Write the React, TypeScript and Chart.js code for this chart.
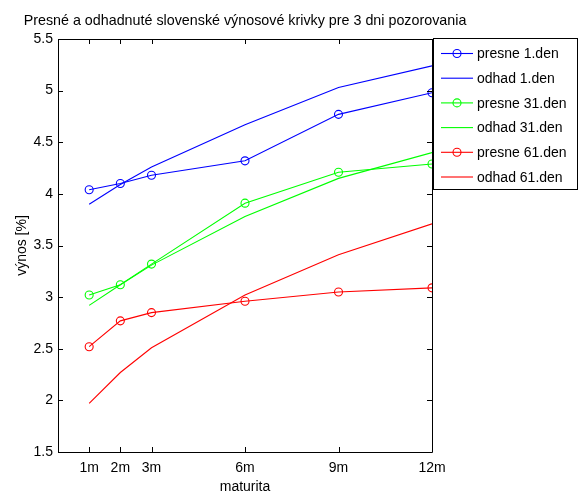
import React, { useEffect, useRef } from "react";
import { Chart, registerables } from "chart.js";

Chart.register(...registerables);

const xMonths = [1, 2, 3, 6, 9, 12];
const xLabels = ["1m", "2m", "3m", "6m", "9m", "12m"];
const yTicks = [1.5, 2, 2.5, 3, 3.5, 4, 4.5, 5, 5.5];

const presne1 = [4.04, 4.1, 4.18, 4.32, 4.77, 4.98];
const odhad1 = [3.9, 4.09, 4.26, 4.67, 5.03, 5.24];
const presne31 = [3.02, 3.12, 3.32, 3.91, 4.21, 4.29];
const odhad31 = [2.92, 3.12, 3.31, 3.78, 4.15, 4.4];
const presne61 = [2.52, 2.77, 2.85, 2.96, 3.05, 3.09];
const odhad61 = [1.97, 2.27, 2.51, 3.02, 3.41, 3.71];

const titleText = "Presné a odhadnuté slovenské výnosové krivky pre 3 dni pozorovania";
const xTitle = "maturita";
const yTitle = "výnos [%]";

const FONT = "Arial, 'Liberation Sans', Helvetica, sans-serif";

const toPts = (arr: number[]) => arr.map((y, i) => ({ x: xMonths[i], y }));

const mk = (label: string, data: number[], color: string, marker: boolean) => ({
  label,
  data: toPts(data),
  borderColor: color,
  backgroundColor: "rgba(0,0,0,0)",
  borderWidth: 1.1,
  pointRadius: marker ? 4 : 0,
  pointBorderWidth: 1.1,
  pointBorderColor: color,
  pointBackgroundColor: "rgba(0,0,0,0)",
  pointStyle: "circle",
  tension: 0,
  fill: false,
  _marker: marker,
});

const framePlugin = {
  id: "matlabFrame",
  afterDraw(chart: any) {
    const { ctx, chartArea } = chart;
    const { left, right, top, bottom } = chartArea;
    const xs = chart.scales.x;
    const ys = chart.scales.y;
    ctx.save();
    ctx.strokeStyle = "#000";
    ctx.lineWidth = 1;
    ctx.beginPath();
    ctx.rect(Math.round(left) + 0.5, Math.round(top) + 0.5, Math.round(right - left), Math.round(bottom - top));
    ctx.stroke();
    const tl = 5;
    ctx.beginPath();
    xMonths.forEach((v) => {
      const px = Math.round(xs.getPixelForValue(v)) + 0.5;
      ctx.moveTo(px, bottom);
      ctx.lineTo(px, bottom - tl);
      ctx.moveTo(px, top);
      ctx.lineTo(px, top + tl);
    });
    yTicks.forEach((v) => {
      const py = Math.round(ys.getPixelForValue(v)) + 0.5;
      ctx.moveTo(left, py);
      ctx.lineTo(left + tl, py);
      ctx.moveTo(right, py);
      ctx.lineTo(right - tl, py);
    });
    ctx.stroke();

    // title
    ctx.fillStyle = "#000";
    ctx.font = `14.3px ${FONT}`;
    ctx.textAlign = "center";
    ctx.textBaseline = "alphabetic";
    ctx.fillText(titleText, (left + right) / 2, 25);

    // x title
    ctx.font = `14px ${FONT}`;
    ctx.fillText(xTitle, (left + right) / 2, 491);

    // y title
    ctx.save();
    ctx.translate(26, (top + bottom) / 2);
    ctx.rotate(-Math.PI / 2);
    ctx.textAlign = "center";
    ctx.textBaseline = "alphabetic";
    ctx.fillText(yTitle, 0, 0);
    ctx.restore();

    // legend
    const lx = 433.5, ly = 38.5, lw = 144, lh = 151;
    ctx.fillStyle = "#fff";
    ctx.fillRect(lx, ly, lw, lh);
    ctx.strokeStyle = "#000";
    ctx.lineWidth = 1;
    ctx.strokeRect(lx, ly, lw, lh);
    ctx.font = `14px ${FONT}`;
    ctx.textAlign = "left";
    ctx.textBaseline = "middle";
    chart.data.datasets.forEach((ds: any, i: number) => {
      const y = 53.5 + i * 24.7;
      ctx.strokeStyle = ds.borderColor;
      ctx.lineWidth = 1.1;
      ctx.beginPath();
      ctx.moveTo(441, y);
      ctx.lineTo(473, y);
      ctx.stroke();
      if (ds._marker) {
        ctx.beginPath();
        ctx.arc(457, y, 4, 0, Math.PI * 2);
        ctx.stroke();
      }
      ctx.fillStyle = "#000";
      ctx.fillText(ds.label, 477, y + 1);
    });
    ctx.restore();
  },
};

export default function App() {
  const ref = useRef<HTMLCanvasElement | null>(null);
  useEffect(() => {
    if (!ref.current) return;
    const chart = new Chart(ref.current, {
      type: "line",
      data: {
        datasets: [
          mk("presne 1.den", presne1, "#0000ff", true),
          mk("odhad 1.den", odhad1, "#0000ff", false),
          mk("presne 31.den", presne31, "#00ff00", true),
          mk("odhad 31.den", odhad31, "#00ff00", false),
          mk("presne 61.den", presne61, "#ff0000", true),
          mk("odhad 61.den", odhad61, "#ff0000", false),
        ] as any,
      },
      options: {
        responsive: false,
        animation: false,
        devicePixelRatio: 1,
        layout: { padding: { top: 39, right: 149, left: 0, bottom: 0 } },
        plugins: { legend: { display: false }, title: { display: false }, tooltip: { enabled: false } },
        scales: {
          x: {
            type: "linear",
            min: 0,
            max: 12,
            grid: { display: false, drawTicks: false },
            border: { display: false },
            afterBuildTicks: (s: any) => {
              s.ticks = xMonths.map((v) => ({ value: v }));
            },
            afterFit: (s: any) => {
              s.height = 41;
            },
            ticks: {
              autoSkip: false,
              maxRotation: 0,
              padding: 8,
              color: "#000",
              font: { family: FONT, size: 14 },
              callback: (v: any) => {
                const i = xMonths.indexOf(Number(v));
                return i >= 0 ? xLabels[i] : "";
              },
            },
          },
          y: {
            min: 1.5,
            max: 5.5,
            grid: { display: false, drawTicks: false },
            border: { display: false },
            afterBuildTicks: (s: any) => {
              s.ticks = yTicks.map((v) => ({ value: v }));
            },
            afterFit: (s: any) => {
              s.width = 58;
            },
            ticks: {
              padding: 5,
              color: "#000",
              font: { family: FONT, size: 14 },
              callback: (v: any) => String(v),
            },
          },
        },
      },
      plugins: [framePlugin],
    });
    return () => chart.destroy();
  }, []);
  return (
    <div style={{ position: "fixed", left: 0, top: 0, width: 581, height: 493, background: "#fff" }}>
      <canvas ref={ref} width={581} height={493} style={{ width: 581, height: 493, display: "block" }} />
    </div>
  );
}
